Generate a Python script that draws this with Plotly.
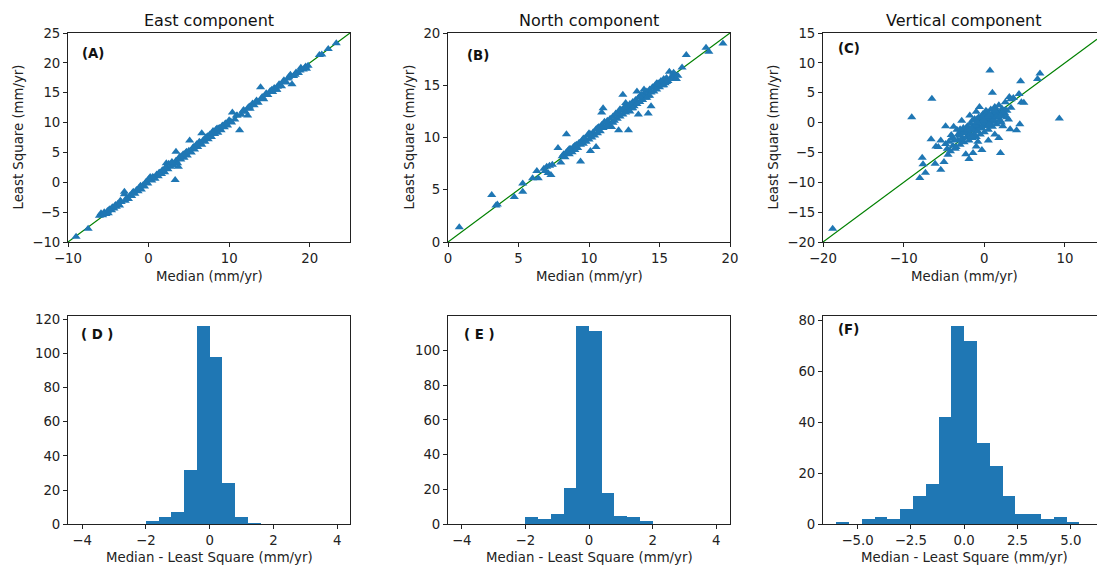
import plotly.graph_objects as go

# ---------------- data ----------------
# Panel A: East component (Median vs Least Square, mm/yr)
east_median = [-9.0, -7.5, -6.1, -5.9, -5.7, -5.5, -5.3, -5.1, -5.0, -4.8, -4.6, -4.5, -4.3, -4.1, -4.0,
               -3.8, -3.6, -3.4, -3.0, -3.0, -2.9, -2.7, -2.5, -2.3, -2.1, -1.9, -1.7, -1.5, -1.3, -1.1,
               -0.9, -0.7, -0.5, -0.3, -0.1, 0.1, 0.2, 0.4, 0.6, 0.8, 1.0, 1.2, 1.4, 1.6, 1.8, 2.0, 2.2,
               2.2, 2.4, 2.5, 2.7, 2.9, 3.1, 3.3, 3.4, 3.4, 3.6, 3.7, 3.8, 4.0, 4.2, 4.4, 4.6, 4.8, 5.0,
               5.1, 5.3, 5.5, 5.7, 5.9, 6.1, 6.4, 6.6, 6.6, 6.8, 7.0, 7.2, 7.4, 7.6, 7.8, 8.0, 8.2, 8.4,
               8.6, 8.8, 9.0, 9.2, 9.4, 9.6, 9.8, 10.0, 10.3, 10.4, 10.7, 11.0, 11.3, 11.5, 11.8, 12.0,
               12.3, 12.3, 12.6, 12.9, 13.1, 13.4, 13.6, 13.9, 14.1, 14.3, 14.6, 14.8, 15.1, 15.4, 15.6,
               15.9, 15.9, 16.2, 16.5, 16.8, 17.1, 17.4, 17.6, 17.8, 18.0, 18.3, 18.6, 18.9, 19.2, 19.5,
               19.6, 21.2, 21.5, 22.3, 23.3,
               -5.6, -4.9, -4.2, -3.5, -2.0, -1.2, -0.4, 0.5, 1.3, 2.1, 2.9, 3.9, 4.7, 5.6, 6.3, 7.1,
               7.9, 8.7, 9.5, 10.2, 10.9, 11.7, 12.5, 13.3, 14.0, 14.7, 15.3, 16.0, 16.7, 17.3, 18.2,
               18.8, 19.4, 19.8, 9.1, 8.5, 7.3, 6.0, 4.3, 1.7, 0.0, -1.0]
east_lsq = [-9.1, -7.8, -5.6, -5.2, -5.5, -5.0, -5.3, -4.8, -5.2, -4.5, -4.7, -4.2, -4.4, -3.8, -4.1,
            -3.6, -3.9, -3.3, -1.6, -2.0, -3.1, -2.6, -2.8, -2.2, -2.3, -1.6, -1.9, -1.3, -1.5, -0.9,
            -1.2, -0.5, -0.7, 0.1, -0.2, 0.4, 0.9, 0.3, 0.8, 0.6, 1.3, 1.0, 1.6, 1.4, 2.0, 1.7, 2.6,
            3.2, 2.2, 3.1, 2.6, 3.4, 2.8, 0.4, 3.6, 5.1, 3.2, 2.6, 4.1, 3.8, 4.5, 4.1, 4.9, 4.5, 5.3,
            7.0, 5.0, 5.8, 5.5, 6.2, 5.9, 6.6, 6.3, 8.2, 7.1, 6.8, 7.5, 7.2, 8.0, 7.6, 8.6, 8.1, 8.9,
            8.3, 9.1, 8.7, 9.5, 9.2, 9.9, 9.5, 10.4, 10.0, 11.7, 10.5, 11.2, 8.7, 11.3, 12.1, 11.8,
            12.4, 11.2, 12.3, 13.2, 12.9, 13.7, 13.3, 15.9, 14.3, 13.9, 14.9, 14.6, 15.3, 15.1, 15.8,
            15.5, 15.5, 16.4, 16.1, 17.1, 16.7, 17.6, 18.0, 16.4, 17.8, 18.4, 18.3, 19.2, 18.9, 19.4,
            19.0, 21.3, 21.4, 22.3, 23.3,
            -5.3, -4.6, -4.0, -3.1, -1.8, -1.0, -0.1, 0.9, 1.6, 2.4, 3.3, 4.3, 5.1, 5.9, 6.8, 7.5,
            8.3, 9.0, 9.8, 10.2, 11.2, 11.9, 12.7, 13.4, 14.0, 14.6, 15.5, 16.0, 16.8, 17.4, 18.0,
            18.7, 19.2, 19.5, 9.4, 9.0, 7.7, 6.4, 4.7, 2.0, 0.5, -0.6]

# Panel B: North component
north_median = [0.8, 3.1, 3.4, 3.5, 4.7, 5.3, 5.3, 6.0, 6.3, 6.4, 6.8, 6.9, 7.0, 7.1, 7.2, 7.3, 7.4,
                7.8, 8.0, 8.1, 8.2, 8.3, 8.4, 8.4, 8.5, 8.6, 8.7, 8.8, 8.9, 9.0, 9.1, 9.2, 9.3, 9.4,
                9.4, 9.5, 9.6, 9.7, 9.8, 9.9, 10.0, 10.1, 10.1, 10.2, 10.3, 10.4, 10.5, 10.5, 10.6,
                10.7, 10.8, 10.9, 10.9, 11.0, 11.0, 11.1, 11.2, 11.3, 11.4, 11.5, 11.6, 11.7, 11.8,
                11.9, 12.0, 12.1, 12.1, 12.2, 12.3, 12.4, 12.4, 12.5, 12.6, 12.7, 12.8, 12.8, 12.9,
                13.0, 13.1, 13.2, 13.3, 13.4, 13.4, 13.5, 13.5, 13.6, 13.7, 13.8, 13.9, 14.0, 14.1,
                14.2, 14.2, 14.3, 14.4, 14.4, 14.5, 14.6, 14.7, 14.8, 14.9, 15.0, 15.1, 15.2, 15.3,
                15.4, 15.5, 15.6, 15.7, 15.8, 15.9, 16.0, 16.1, 16.2, 16.3, 16.6, 16.9, 18.3, 18.5,
                19.5,
                10.0, 10.6, 11.3, 11.9, 12.5, 13.1, 13.7, 14.3, 14.9, 15.5, 11.1, 11.7, 12.2, 12.9,
                13.6, 14.1, 14.8, 15.3, 16.0, 9.6, 9.0, 8.6, 12.6, 13.9]
north_lsq = [1.4, 4.5, 3.5, 3.6, 4.3, 4.8, 5.6, 6.1, 6.8, 6.1, 7.0, 6.8, 7.2, 6.6, 7.3, 6.4, 7.4,
             9.0, 7.6, 8.2, 8.4, 8.1, 10.3, 8.6, 8.7, 8.4, 8.9, 8.6, 9.1, 8.8, 9.3, 9.0, 9.5, 7.7,
             9.3, 9.7, 9.4, 9.9, 9.6, 10.2, 9.8, 8.7, 10.3, 10.0, 10.5, 10.2, 9.1, 10.8, 10.4,
             11.0, 10.6, 12.4, 11.2, 12.8, 10.9, 11.4, 11.1, 11.6, 11.2, 11.8, 11.0, 12.0, 11.6,
             12.2, 11.8, 10.7, 12.4, 12.0, 12.6, 14.1, 12.2, 12.8, 12.4, 13.0, 10.7, 12.6, 13.2,
             12.8, 13.4, 13.0, 13.6, 14.4, 13.2, 12.2, 13.8, 13.4, 14.0, 13.6, 14.2, 13.8, 14.4,
             12.3, 14.0, 14.6, 13.0, 14.3, 14.8, 14.4, 15.0, 14.6, 15.2, 14.8, 15.4, 15.0, 15.6,
             15.2, 15.7, 15.4, 16.3, 15.6, 15.9, 15.7, 16.0, 15.6, 15.9, 16.7, 17.9, 18.6, 18.2,
             19.0,
             10.4, 10.9, 11.0, 12.3, 12.9, 12.8, 14.1, 14.0, 15.1, 15.3, 11.5, 11.4, 12.7, 12.5,
             13.9, 13.8, 15.2, 15.0, 16.2, 9.9, 9.2, 8.9, 13.3, 14.6]

# Panel C: Vertical component
vert_median = [-18.8, -9.0, -6.5, 0.7, 1.0, 4.5, 6.6, 6.9, 9.3, 4.9, 4.6, 4.3, 3.1, 3.6, 4.0, 4.4,
               3.2, 2.0, -0.3, -1.4, -1.9, -2.3, -5.0, -5.4, -6.1, -7.3, -8.0, -7.7, -7.6, -6.6,
               -4.8, -5.7, -5.4, -6.0, -4.5, -3.5, -2.9, 2.1, 2.3, 2.5, 2.8, 3.3, 1.8, 0.5, -0.8,
               1.3, -1.0, -4.8, -4.6, -4.4, -4.2, -4.0, -3.9, -3.7, -3.6, -3.4, -3.3, -3.1, -3.0,
               -2.9, -2.7, -2.6, -2.5, -2.4, -2.2, -2.1, -2.0, -1.9, -1.8, -1.7, -1.6, -1.5, -1.4,
               -1.3, -1.2, -1.1, -1.0, -0.9, -0.8, -0.7, -0.6, -0.5, -0.4, -0.3, -0.2, -0.1, 0.0,
               0.1, 0.2, 0.3, 0.4, 0.5, 0.6, 0.7, 0.8, 0.9, 1.0, 1.1, 1.2, 1.3, 1.4, 1.5, 1.6, 1.7,
               1.8, 1.9, 2.0, 2.2, 2.4, 2.6, 2.8, 3.0, 3.3, -1.8, -0.6, 0.2, -2.8, -3.8, -1.0, 0.0,
               -0.5, 0.4, -1.5, -2.3, 1.0, 0.6, -0.2, 0.9, 1.5, -1.2, -2.6, -3.2, 0.3, 1.9, -0.9,
               -4.1, -3.0, 2.6, 1.2, -0.4, 0.8, -1.6, -2.0, 0.1, 2.2,
               -1.1, -0.7, -0.3, 0.2, 0.6, 1.1, 1.5, -2.1, -1.6, -0.9, 0.4, 1.3, 2.0, -0.1, 0.7]
vert_lsq = [-17.8, 0.9, 4.0, 8.7, 5.0, 6.9, 7.3, 8.2, 0.7, 3.3, 3.4, 4.8, 4.3, 4.1, -1.3, -0.3,
            -1.1, -5.1, -4.6, -5.1, -6.1, -5.3, -6.6, -7.9, -6.9, -8.4, -9.3, -5.9, -7.0, -2.8,
            -0.6, -4.1, -3.0, -4.0, -5.4, -4.1, -2.9, 0.0, -0.6, 1.6, 0.9, 2.5, -2.6, -3.0, -3.2,
            -2.0, -4.0, -3.6, -4.4, -3.2, -4.8, -2.6, -3.9, -2.9, -4.4, -1.2, -3.0, -2.2, -3.7,
            -1.4, -2.6, -0.9, -3.3, -1.8, -2.4, -0.6, -1.6, -3.0, -2.0, -0.2, -1.3, -2.6, -0.8,
            -1.9, 0.6, -1.1, -2.4, -0.3, -1.5, 0.9, -0.7, -2.0, 0.2, -1.0, 1.4, -0.4, -1.6,
            0.6, -0.2, 1.8, 0.3, -1.2, 1.1, 0.0, 2.2, 0.8, -0.7, 1.6, 0.4, 2.6, 1.2, -0.3, 1.9,
            0.8, 2.9, 1.5, 0.3, 2.3, 1.0, 3.4, 2.0, 0.5, 3.9, 1.2, 2.6, 2.0, 0.3, -0.7, 1.8, 0.2,
            0.5, -0.6, 0.3, -1.0, 0.2, -0.3, 0.9, 1.2, 1.7, -2.2, -1.6, -1.9, 1.4, 0.4, 0.6,
            -2.1, -1.1, 2.1, 2.2, -0.9, 0.5, -2.3, -1.2, 1.1, 1.7,
            -0.5, 0.0, 0.1, 0.7, 1.4, 0.5, 1.0, -1.2, -0.9, 0.1, 1.0, 2.0, 1.1, 0.4, 1.3]

# Histograms of (Median - Least Square)
hist_d_edges = [-4.0, -3.6, -3.2, -2.8, -2.4, -2.0, -1.6, -1.2, -0.8, -0.4, 0.0,
                0.4, 0.8, 1.2, 1.6, 2.0, 2.4, 2.8, 3.2, 3.6, 4.0]
hist_d_counts = [0, 0, 0, 0, 0, 2, 4, 7, 32, 116, 98, 24, 4, 1, 0, 0, 0, 0, 0, 0]
hist_e_edges = [-4.0, -3.6, -3.2, -2.8, -2.4, -2.0, -1.6, -1.2, -0.8, -0.4, 0.0,
                0.4, 0.8, 1.2, 1.6, 2.0, 2.4, 2.8, 3.2, 3.6, 4.0]
hist_e_counts = [0, 0, 0, 0, 0, 4, 3, 6, 21, 114, 111, 18, 5, 4, 2, 0, 0, 0, 0, 0]
hist_f_edges = [-6.0, -5.4, -4.8, -4.2, -3.6, -3.0, -2.4, -1.8, -1.2, -0.6, 0.0,
                0.6, 1.2, 1.8, 2.4, 3.0, 3.6, 4.2, 4.8, 5.4]
hist_f_counts = [1, 0, 2, 3, 2, 6, 11, 16, 42, 78, 72, 32, 23, 11, 4, 4, 2, 3, 1]

titles = ["East component", "North component", "Vertical component"]
panel_labels = ["(A)", "(B)", "(C)", "( D )", "( E )", "(F)"]

# ---------------- layout helpers ----------------
W, H = 1097, 565
BLUE = "#1f77b4"
GREEN = "#008000"
FONT = "DejaVu Sans"
TICK = 13.3


def fx(p):
    return p / W


def fy(p):
    return 1 - p / H


col_px = [(68, 350), (448, 730), (823, 1097)]
top_px = (33, 242)
bot_px = (316, 524.3)

fig = go.Figure()

scatter_sets = [(east_median, east_lsq), (north_median, north_lsq), (vert_median, vert_lsq)]
scatter_ranges = [((-10, 25), (-10, 25)), ((0, 20), (0, 20)), ((-20, 13.97), (-20, 15))]
scatter_xticks = [[-10, 0, 10, 20], [0, 5, 10, 15, 20], [-20, -10, 0, 10]]
scatter_yticks = [[-10, -5, 0, 5, 10, 15, 20, 25], [0, 5, 10, 15, 20],
                  [-20, -15, -10, -5, 0, 5, 10, 15]]

layout = dict(
    width=W, height=H, margin=dict(l=0, r=0, t=0, b=0, autoexpand=False),
    paper_bgcolor="white", plot_bgcolor="white", showlegend=False,
    font=dict(family=FONT, size=TICK, color="#222222"),
)
annotations = []


def axis_common(**kw):
    d = dict(showgrid=False, zeroline=False, showline=True, linecolor="#222222", linewidth=1,
             ticks="outside", ticklen=4, tickwidth=1, tickcolor="#222222", automargin=False,
             tickfont=dict(family=FONT, size=TICK, color="#222222"))
    d.update(kw)
    return d


for i in range(3):
    n = i + 1
    xs, ys = scatter_sets[i]
    xr, yr = scatter_ranges[i]
    xa = "x" if n == 1 else f"x{n}"
    ya = "y" if n == 1 else f"y{n}"
    lo = max(xr[0], yr[0])
    hi = min(xr[1], yr[1])
    fig.add_trace(go.Scatter(x=[lo, hi], y=[lo, hi], mode="lines",
                             line=dict(color=GREEN, width=1.2), xaxis=xa, yaxis=ya,
                             hoverinfo="skip"))
    fig.add_trace(go.Scatter(x=xs, y=ys, mode="markers", xaxis=xa, yaxis=ya,
                             marker=dict(symbol="triangle-up", size=8, color=BLUE,
                                         line=dict(width=0))))
    kx = "xaxis" if n == 1 else f"xaxis{n}"
    ky = "yaxis" if n == 1 else f"yaxis{n}"
    layout[kx] = axis_common(domain=[fx(col_px[i][0]), fx(col_px[i][1])], range=list(xr),
                             anchor=ya, tickvals=scatter_xticks[i], mirror=True)
    layout[ky] = axis_common(domain=[fy(top_px[1]), fy(top_px[0])], range=list(yr),
                             anchor=xa, tickvals=scatter_yticks[i], mirror=(i != 2))
    cx = (col_px[i][0] + col_px[i][1]) / 2 if i != 2 else 964
    annotations.append(dict(text=titles[i], x=fx(cx), y=fy(20), xref="paper", yref="paper",
                            showarrow=False, xanchor="center", yanchor="middle",
                            font=dict(family=FONT, size=16, color="#111111")))
    annotations.append(dict(text="Median (mm/yr)", x=fx(cx), y=fy(276), xref="paper",
                            yref="paper", showarrow=False, xanchor="center", yanchor="middle",
                            font=dict(family=FONT, size=TICK, color="#222222")))
    ylab_x = [18, 409, 773][i]
    annotations.append(dict(text="Least Square (mm/yr)", x=fx(ylab_x), y=fy(137.5), xref="paper",
                            yref="paper", showarrow=False, textangle=-90, xanchor="center",
                            yanchor="middle", font=dict(family=FONT, size=TICK, color="#222222")))

hist_sets = [(hist_d_edges, hist_d_counts), (hist_e_edges, hist_e_counts),
             (hist_f_edges, hist_f_counts)]
hist_xr = [(-4.44, 4.4), (-4.43, 4.43), (-6.62, 6.23)]
hist_xticks = [([-4, -2, 0, 2, 4], None), ([-4, -2, 0, 2, 4], None),
               ([-5, -2.5, 0, 2.5, 5], ".1f")]
hist_yticks = [[0, 20, 40, 60, 80, 100, 120], [0, 20, 40, 60, 80, 100], [0, 20, 40, 60, 80]]

for i in range(3):
    n = i + 4
    edges, counts = hist_sets[i]
    centers = [(edges[k] + edges[k + 1]) / 2 for k in range(len(counts))]
    widths = [edges[k + 1] - edges[k] for k in range(len(counts))]
    xa, ya = f"x{n}", f"y{n}"
    fig.add_trace(go.Bar(x=centers, y=counts, width=widths, xaxis=xa, yaxis=ya,
                         marker=dict(color=BLUE, line=dict(width=0))))
    tv, tf = hist_xticks[i]
    xkw = dict(domain=[fx(col_px[i][0]), fx(col_px[i][1])], range=list(hist_xr[i]),
               anchor=ya, tickvals=tv, mirror=True)
    if tf:
        xkw["tickformat"] = tf
    layout[f"xaxis{n}"] = axis_common(**xkw)
    layout[f"yaxis{n}"] = axis_common(domain=[fy(bot_px[1]), fy(bot_px[0])],
                                      range=[0, max(counts) * 1.05], anchor=xa,
                                      tickvals=hist_yticks[i], mirror=(i != 2))
    cx = (col_px[i][0] + col_px[i][1]) / 2 if i != 2 else 964
    annotations.append(dict(text="Median - Least Square (mm/yr)", x=fx(cx), y=fy(557),
                            xref="paper", yref="paper", showarrow=False, xanchor="center",
                            yanchor="middle", font=dict(family=FONT, size=TICK, color="#222222")))

# panel labels
label_pos = [(80, 53), (465, 55), (836, 49), (79, 334), (462, 334), (836, 329)]
for lab, (px, py) in zip(panel_labels, label_pos):
    annotations.append(dict(text="<b>" + lab + "</b>", x=fx(px), y=fy(py), xref="paper",
                            yref="paper", showarrow=False, xanchor="left", yanchor="middle",
                            font=dict(family=FONT, size=TICK, color="#111111")))

layout["annotations"] = annotations
layout["bargap"] = 0
fig.update_layout(**layout)
fig.write_html("out.html", config={"displayModeBar": False},
               post_script="document.body.style.margin='0';document.body.style.overflow='hidden';")
